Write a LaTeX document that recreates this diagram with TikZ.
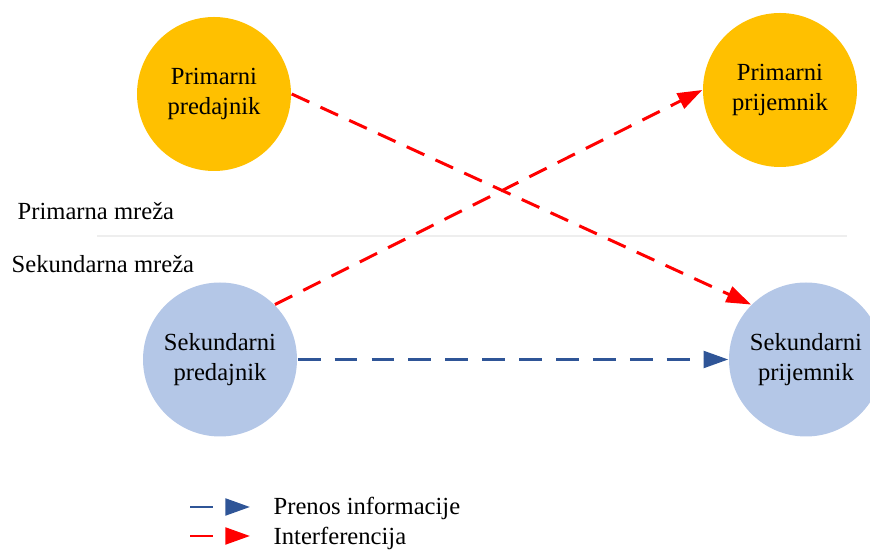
\documentclass[tikz,border=0pt]{standalone}
\usepackage{fontspec}
\setmainfont{Liberation Serif}
\usetikzlibrary{arrows.meta}

\definecolor{zuta}{HTML}{FFC000}
\definecolor{svplava}{HTML}{B4C7E7}
\definecolor{tmplava}{HTML}{2F5597}
\definecolor{sivo}{HTML}{EEEEEE}

\tikzset{
  cvor/.style={circle, minimum size=3.08cm, inner sep=0pt, align=center},
  prim/.style={cvor, fill=zuta},
  sek/.style={cvor, fill=svplava},
  interf/.style={->, red, line width=1.7pt, dash pattern=on 11pt off 7pt},
  prenos/.style={->, tmplava, line width=1.7pt, dash pattern=on 13pt off 8pt},
  natpis/.style={anchor=base west, inner sep=0pt}
}

\begin{document}
\begin{tikzpicture}[thick, >={Triangle[length=14pt,width=9.5pt]},
    font=\fontsize{14}{17}\selectfont]
    \path[use as bounding box, clip] (0,0) rectangle (17.4,11);
    % cvorovi
    \node[prim] (pp) at (4.28,9.12) {Primarni\\predajnik};
    \node[prim] (pr) at (15.6,9.2) {Primarni\\prijemnik};
    \node[sek] (sp) at (4.4,3.81) {Sekundarni\\predajnik};
    \node[sek] (sr) at (16.12,3.81) {Sekundarni\\prijemnik};
    % granica mreza
    \draw[sivo, line width=0.6pt] (1.94,6.28) -- (16.94,6.28);
    \node[natpis] (lprim) at (0.34,6.60) {Primarna mreža};
    \node[natpis] (lsek) at (0.22,5.54) {Sekundarna mreža};
    % veze
    \draw[interf] (pp.east) -- (sr.north west);
    \draw[interf] (sp.north east) -- (pr.west);
    \draw[prenos] (sp.east) -- (sr.west);
    % legenda
    \coordinate (l1a) at (3.8,0.86); \coordinate (l1b) at (5.0,0.86);
    \coordinate (l2a) at (3.8,0.28); \coordinate (l2b) at (5.0,0.28);
    \draw[prenos, dash pattern=on 13pt off 10pt] (l1a) -- (l1b);
    \draw[interf, dash pattern=on 13pt off 10pt] (l2a) -- (l2b);
    \node[natpis] (tprenos) at (5.46,0.70) {Prenos informacije};
    \node[natpis] (tinterf) at (5.46,0.10) {Interferencija};
\end{tikzpicture}
\end{document}
